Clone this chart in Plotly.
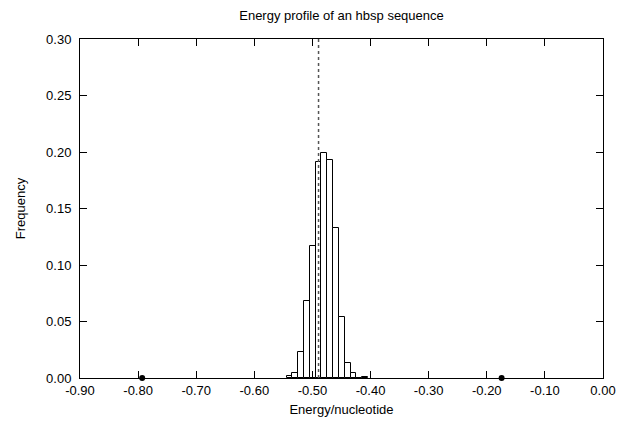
import plotly.graph_objects as go

# Histogram bins (centres) and frequencies
bin_centers = [-0.5395, -0.5295, -0.5195, -0.5095, -0.4995, -0.4895, -0.4795,
               -0.4695, -0.4595, -0.4495, -0.4395, -0.4295, -0.4195, -0.4095]
frequencies = [0.002, 0.0047, 0.023, 0.068, 0.117, 0.1915, 0.1995,
               0.1925, 0.133, 0.054, 0.0133, 0.0044, 0.0, 0.0009]
bin_width = 0.01

# Dotted reference line (sequence energy)
ref_energy = -0.4895

# Extreme points
point_x = [-0.793, -0.1745]
point_y = [0.0, 0.0]

x_ticks = [-0.9, -0.8, -0.7, -0.6, -0.5, -0.4, -0.3, -0.2, -0.1, 0.0]
x_tick_labels = ["-0.90", "-0.80", "-0.70", "-0.60", "-0.50", "-0.40",
                 "-0.30", "-0.20", "-0.10", "0.00"]
y_ticks = [0.0, 0.05, 0.10, 0.15, 0.20, 0.25, 0.30]
y_tick_labels = ["0.00", "0.05", "0.10", "0.15", "0.20", "0.25", "0.30"]

FONT = "Liberation Sans, Arial, sans-serif"

fig = go.Figure()
fig.add_trace(go.Bar(
    x=bin_centers, y=frequencies, width=bin_width,
    marker=dict(color="white", line=dict(color="black", width=1)),
    showlegend=False, hoverinfo="x+y",
))
fig.add_trace(go.Scatter(
    x=point_x, y=point_y, mode="markers",
    marker=dict(color="black", size=6),
    cliponaxis=False, showlegend=False,
))
fig.add_shape(type="line", xref="x", yref="paper",
              x0=ref_energy, x1=ref_energy, y0=0, y1=1,
              line=dict(color="#555555", width=1.5, dash="dot"))

axis_common = dict(
    showline=True, linecolor="black", linewidth=1, mirror="ticks",
    ticks="inside", ticklen=7, tickcolor="black", tickwidth=1,
    showgrid=False, zeroline=False,
    tickfont=dict(family=FONT, size=13, color="black"),
)
fig.update_xaxes(range=[-0.9, 0.0], tickvals=x_ticks, ticktext=x_tick_labels,
                 title=dict(text="Energy/nucleotide", standoff=8,
                            font=dict(family=FONT, size=13, color="black")),
                 **axis_common)
fig.update_yaxes(range=[0.0, 0.3], tickvals=y_ticks, ticktext=y_tick_labels,
                 ticklabelstandoff=5,
                 title=dict(text="Frequency", standoff=17,
                            font=dict(family=FONT, size=13, color="black")),
                 **axis_common)

# The page body has an 8px margin; the figure is sized to fit the window.
fig.update_layout(
    width=621, height=420,
    margin=dict(l=65.5, r=25.5, t=31, b=50),
    paper_bgcolor="white", plot_bgcolor="white",
    bargap=0,
    title=dict(text="Energy profile of an hbsp sequence",
               xref="paper", x=0.5, xanchor="center",
               y=1 - 7.5 / 420, yanchor="middle",
               font=dict(family=FONT, size=13, color="black")),
    font=dict(family=FONT, size=13, color="black"),
)

fig.write_html("out.html")
